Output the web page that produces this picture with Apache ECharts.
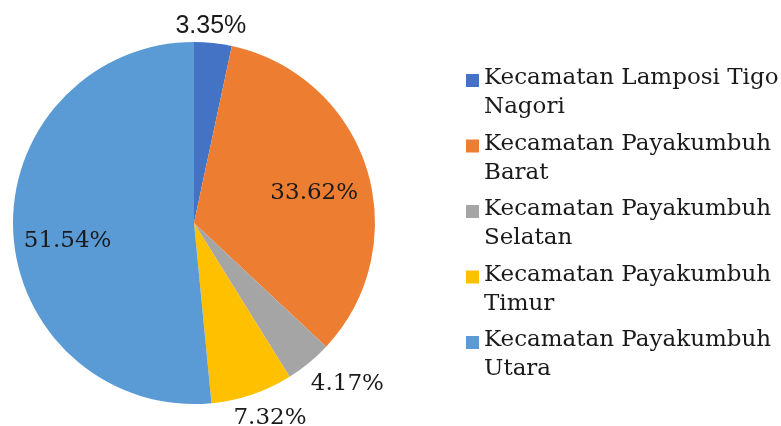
<!DOCTYPE html>
<html>
<head>
<meta charset="utf-8">
<script src="https://cdn.jsdelivr.net/npm/echarts@6/dist/echarts.min.js"></script>
<style>html,body{margin:0;padding:0;background:#fff}#c{width:781px;height:426px}</style>
</head>
<body>
<div id="c"></div>
<script>
const categories = [
  'Kecamatan Lamposi Tigo Nagori',
  'Kecamatan Payakumbuh Barat',
  'Kecamatan Payakumbuh Selatan',
  'Kecamatan Payakumbuh Timur',
  'Kecamatan Payakumbuh Utara'
];
const values = [3.35, 33.62, 4.17, 7.32, 51.54];
const colors = ['#4472C4', '#ED7D31', '#A5A5A5', '#FFC000', '#5B9BD5'];

const labelShift = [[7, -104], [31, -2], [94, 89], [46, 106], [-33, 14]];

const chart = echarts.init(document.getElementById('c'), null, {renderer: 'canvas'});
chart.setOption({
  animation: false,
  color: colors,
  legend: {
    orient: 'vertical',
    left: 466,
    top: 64,
    padding: 0,
    itemGap: 7.5,
    itemWidth: 13,
    itemHeight: 38,
    icon: 'path://M0 0H13V13H0Z M0 38L0.01 38L0 37.99Z',
    itemStyle: {borderWidth: 0},
    formatter: function (name) {
      const i = name.lastIndexOf(' ');
      return name.slice(0, i) + '\n' + name.slice(i + 1);
    },
    textStyle: {
      fontFamily: 'DejaVu Serif',
      fontSize: 23,
      lineHeight: 29,
      color: '#1a1a1a'
    }
  },
  series: [{
    type: 'pie',
    center: [194, 223],
    radius: 181,
    startAngle: 90,
    clockwise: true,
    avoidLabelOverlap: false,
    itemStyle: {borderWidth: 0},
    label: {
      show: true,
      position: 'inside',
      formatter: function (p) { return p.value.toFixed(2) + '%'; },
      fontFamily: 'DejaVu Serif',
      fontSize: 23,
      color: '#1a1a1a'
    },
    labelLine: {show: false},
    labelLayout: function (p) {
      const s = labelShift[p.dataIndex];
      return {dx: s[0], dy: s[1]};
    },
    emphasis: {disabled: true},
    data: categories.map(function (n, i) {
      const d = {name: n, value: values[i]};
      if (i === 0) {
        d.label = {fontFamily: 'Liberation Sans', fontSize: 25};
      }
      return d;
    })
  }]
});
</script>
</body>
</html>
